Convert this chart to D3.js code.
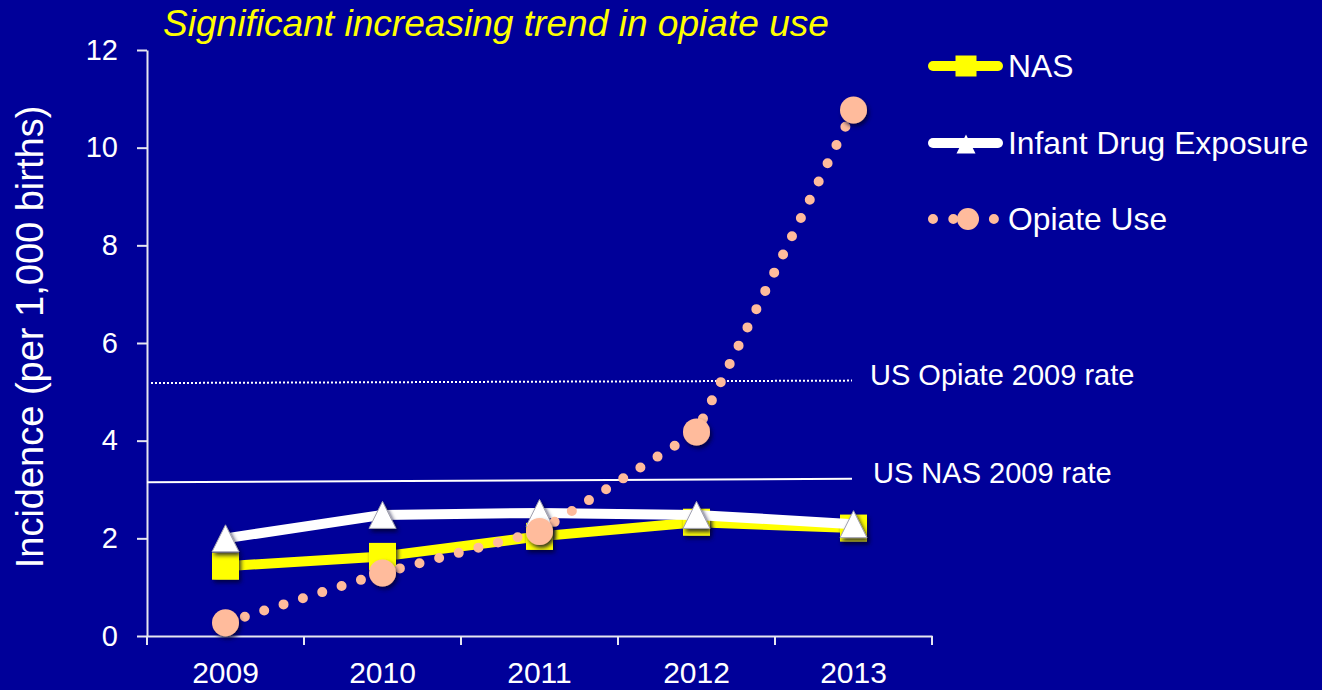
<!DOCTYPE html>
<html>
<head>
<meta charset="utf-8">
<script src="https://cdn.jsdelivr.net/npm/d3@7"></script>
<style>
  html, body { margin: 0; padding: 0; background: #000099; }
  svg { display: block; font-family: "Liberation Sans", Arial, sans-serif; }
</style>
</head>
<body>
<div id="chart"></div>
<script>
// Datos del grafico
const years = ["2009", "2010", "2011", "2012", "2013"];
const nas = [1.43, 1.63, 2.04, 2.33, 2.21];
const drugExposure = [2.0, 2.48, 2.52, 2.48, 2.29];
const opiateUse = [0.27, 1.29, 2.14, 4.18, 10.77];
const yTicks = [0, 2, 4, 6, 8, 10, 12];

// Lineas de referencia (valor al inicio y al final)
const refLabels = ["US Opiate 2009 rate", "US NAS 2009 rate"];
const refStart = [5.18, 3.15];
const refEnd = [5.23, 3.22];

const seriesNames = ["NAS", "Infant Drug Exposure", "Opiate Use"];

const width = 1322;
const height = 690;
const marginLeft = 147, plotRight = 932, plotTop = 50, plotBottom = 636;

const svg = d3.select("#chart")
  .append("svg")
  .attr("width", width)
  .attr("height", height);

svg.append("rect")
  .attr("width", width)
  .attr("height", height)
  .attr("fill", "#000099");

// Sombra de los marcadores
const defs = svg.append("defs");
defs.append("filter")
  .attr("id", "shadow")
  .attr("x", "-50%").attr("y", "-50%")
  .attr("width", "200%").attr("height", "200%")
  .append("feDropShadow")
  .attr("dx", 2).attr("dy", 3)
  .attr("stdDeviation", 2)
  .attr("flood-color", "#000030")
  .attr("flood-opacity", 0.8);

// Escalas
const x = d3.scaleBand()
  .domain(years)
  .range([marginLeft, plotRight]);

const y = d3.scaleLinear()
  .domain([0, 12])
  .range([plotBottom, plotTop]);

const cx = d => x(d) + x.bandwidth() / 2;

// Eje X
const xAxis = svg.append("g")
  .attr("transform", `translate(0,${plotBottom})`)
  .call(d3.axisBottom(x).tickSize(0).tickPadding(26).tickSizeOuter(0));
xAxis.select(".domain").attr("stroke", "#e6e6f0").attr("stroke-width", 2);
xAxis.selectAll("text")
  .attr("fill", "white")
  .attr("font-size", 30)
  .attr("font-family", "Liberation Sans, Arial, sans-serif");

// marcas entre categorias
svg.append("g")
  .selectAll("line")
  .data(years.concat(["end"]))
  .join("line")
  .attr("x1", (d, i) => marginLeft + i * x.step())
  .attr("x2", (d, i) => marginLeft + i * x.step())
  .attr("y1", plotBottom)
  .attr("y2", plotBottom + 9)
  .attr("stroke", "#e6e6f0")
  .attr("stroke-width", 2);

// Eje Y
const yAxis = svg.append("g")
  .attr("transform", `translate(${marginLeft},0)`)
  .call(d3.axisLeft(y).tickValues(yTicks).tickSize(10).tickPadding(19).tickSizeOuter(0));
yAxis.select(".domain").attr("stroke", "#e6e6f0").attr("stroke-width", 2);
yAxis.selectAll(".tick line").attr("stroke", "#e6e6f0").attr("stroke-width", 2);
yAxis.selectAll("text")
  .attr("fill", "white")
  .attr("font-size", 29)
  .attr("font-family", "Liberation Sans, Arial, sans-serif");

svg.append("text")
  .attr("transform", "translate(43,337) rotate(-90)")
  .attr("text-anchor", "middle")
  .attr("fill", "white")
  .attr("font-size", 38)
  .text("Incidence (per 1,000 births)");

// Titulo
svg.append("text")
  .attr("x", 163)
  .attr("y", 36)
  .attr("fill", "#ffff00")
  .attr("font-size", 36)
  .attr("font-style", "italic")
  .attr("textLength", 666)
  .attr("lengthAdjust", "spacingAndGlyphs")
  .text("Significant increasing trend in opiate use");

// Lineas de referencia
const refEndX = 852;
refLabels.forEach((label, i) => {
  svg.append("line")
    .attr("x1", i === 0 ? marginLeft + 4 : marginLeft)
    .attr("x2", refEndX)
    .attr("y1", y(refStart[i]))
    .attr("y2", y(refEnd[i]))
    .attr("stroke", "white")
    .attr("stroke-width", 2)
    .attr("stroke-dasharray", i === 0 ? "2 2" : null);

  svg.append("text")
    .attr("x", i === 0 ? 870 : 873)
    .attr("y", y(refEnd[i]) + 4)
    .attr("fill", "white")
    .attr("font-size", 29)
    .text(label);
});

// Formas de marcador
const square = s => `M${-s/2},${-s/2}H${s/2}V${s/2}H${-s/2}Z`;
const triangle = s => `M0,${-s/2}L${s/2},${s/2}L${-s/2},${s/2}Z`;

const line = d3.line()
  .x((d, i) => cx(years[i]))
  .y(d => y(d));

// NAS
svg.append("path")
  .datum(nas)
  .attr("d", line)
  .attr("fill", "none")
  .attr("stroke", "#ffff00")
  .attr("stroke-width", 10)
  .attr("stroke-linejoin", "round");

svg.append("g")
  .selectAll("path")
  .data(nas)
  .join("path")
  .attr("transform", (d, i) => `translate(${cx(years[i])},${y(d)})`)
  .attr("d", square(27))
  .attr("fill", "#ffff00")
  .attr("filter", "url(#shadow)");

// Infant Drug Exposure
svg.append("path")
  .datum(drugExposure)
  .attr("d", line)
  .attr("fill", "none")
  .attr("stroke", "white")
  .attr("stroke-width", 10)
  .attr("stroke-linejoin", "round");

svg.append("g")
  .selectAll("path")
  .data(drugExposure)
  .join("path")
  .attr("transform", (d, i) => `translate(${cx(years[i])},${y(d)})`)
  .attr("d", triangle(27))
  .attr("fill", "white")
  .attr("stroke", "#a0a0b0")
  .attr("stroke-width", 1)
  .attr("filter", "url(#shadow)");

// Opiate Use
svg.append("path")
  .datum(opiateUse)
  .attr("d", line)
  .attr("fill", "none")
  .attr("stroke", "#ffbb9c")
  .attr("stroke-width", 10)
  .attr("stroke-linecap", "round")
  .attr("stroke-dasharray", "0 20.3");

svg.append("g")
  .selectAll("circle")
  .data(opiateUse)
  .join("circle")
  .attr("cx", (d, i) => cx(years[i]))
  .attr("cy", d => y(d))
  .attr("r", 13.5)
  .attr("fill", "#ffbb9c")
  .attr("filter", "url(#shadow)");

// Leyenda
const legendY = [66, 143, 219];
const legendColors = ["#ffff00", "white", "#ffbb9c"];
const legend = svg.append("g");

seriesNames.forEach((name, i) => {
  const g = legend.append("g").attr("transform", `translate(0,${legendY[i]})`);
  const ln = g.append("line")
    .attr("x1", 933).attr("x2", 998)
    .attr("stroke", legendColors[i])
    .attr("stroke-width", 10)
    .attr("stroke-linecap", "round");
  if (i === 2) ln.attr("stroke-dasharray", "0 20.3").attr("x1", 933).attr("x2", 1000);

  if (i === 0) {
    g.append("path").attr("transform", "translate(966,0)").attr("d", square(21)).attr("fill", legendColors[i]);
  } else if (i === 1) {
    g.append("path").attr("transform", "translate(966,1)").attr("d", triangle(19)).attr("fill", "white");
  } else {
    g.append("circle").attr("cx", 968).attr("r", 11).attr("fill", legendColors[i]);
  }

  g.append("text")
    .attr("x", 1008)
    .attr("y", 11)
    .attr("fill", "white")
    .attr("font-size", 31.8)
    .text(name);
});
</script>
</body>
</html>
